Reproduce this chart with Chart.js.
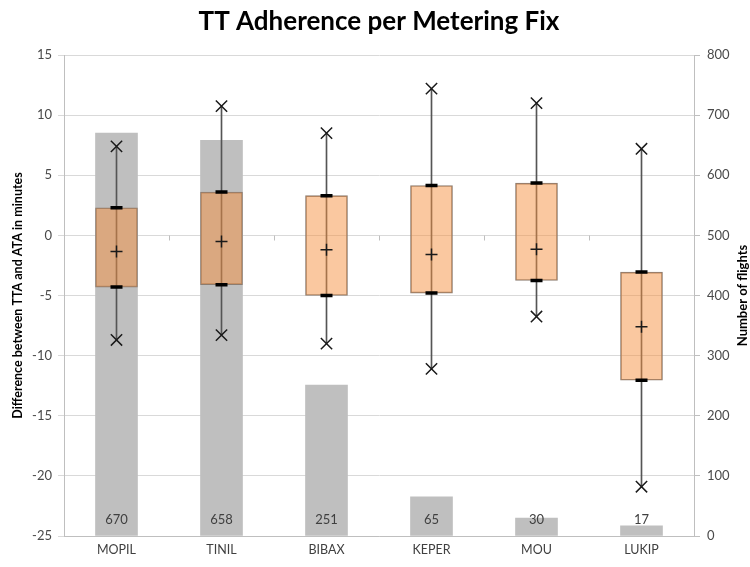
<!DOCTYPE html>
<html>
<head>
<meta charset="utf-8">
<script src="https://cdn.jsdelivr.net/npm/chart.js@4.4.1/dist/chart.umd.min.js"></script>
<style>
  html, body { margin: 0; padding: 0; background: #fff; }
  #wrap { width: 750px; height: 567px; }
</style>
</head>
<body>
<div id="wrap"><canvas id="boxChart" width="750" height="567"></canvas></div>
<script>
// metering fixes
const fixes = ['MOPIL', 'TINIL', 'BIBAX', 'KEPER', 'MOU', 'LUKIP'];
// number of flights (right axis)
const flights = [670, 658, 251, 65, 30, 17];
// TT adherence stats in minutes (left axis)
const maxVals = [7.4, 10.75, 8.5, 12.2, 11.0, 7.2];
const q3Vals = [2.3, 3.6, 3.3, 4.15, 4.35, -3.05];
const meanVals = [-1.35, -0.5, -1.2, -1.6, -1.15, -7.6];
const q1Vals = [-4.3, -4.1, -5.0, -4.8, -3.75, -12.05];
const minVals = [-8.7, -8.3, -9.0, -11.1, -6.75, -20.9];

const FONT = 'Lato, "Open Sans", sans-serif';

const extras = {
  id: 'extras',
  afterDatasetsDraw(chart) {
    const { ctx, scales: { x, y, y2 } } = chart;
    ctx.save();
    // counts at bottom of the flight bars
    ctx.font = '13px ' + FONT;
    ctx.fillStyle = '#404040';
    ctx.textAlign = 'center';
    ctx.textBaseline = 'middle';
    flights.forEach((v, i) => {
      ctx.fillText(String(v), x.getPixelForValue(i), y2.getPixelForValue(0) - 16);
    });
    // small category ticks on the zero line
    ctx.strokeStyle = '#BFBFBF';
    ctx.lineWidth = 1;
    const y0 = Math.round(y.getPixelForValue(0)) + 0.5;
    for (let i = 0; i < fixes.length - 1; i++) {
      const bx = Math.round((x.getPixelForValue(i) + x.getPixelForValue(i + 1)) / 2) + 0.5;
      ctx.beginPath();
      ctx.moveTo(bx, y0);
      ctx.lineTo(bx, y0 + 5);
      ctx.stroke();
    }
    ctx.restore();
  },
  afterDraw(chart) {
    const { ctx, chartArea } = chart;
    const midY = (chartArea.top + chartArea.bottom) / 2;
    ctx.save();
    ctx.fillStyle = '#000';
    ctx.textAlign = 'center';
    ctx.textBaseline = 'middle';
    ctx.font = 'bold 26px ' + FONT;
    ctx.fillText('TT Adherence per Metering Fix', (chartArea.left + chartArea.right) / 2, 22);

    ctx.font = 'bold 12.5px ' + FONT;
    ctx.translate(18, midY);
    ctx.rotate(-Math.PI / 2);
    ctx.fillText('Difference between TTA and ATA in minutes', 0, 0);
    ctx.restore();

    ctx.save();
    ctx.fillStyle = '#000';
    ctx.textAlign = 'center';
    ctx.textBaseline = 'middle';
    ctx.font = 'bold 13px ' + FONT;
    ctx.translate(743, midY);
    ctx.rotate(-Math.PI / 2);
    ctx.fillText('Number of flights', 0, 0);
    ctx.restore();
  }
};

const ctx = document.getElementById('boxChart').getContext('2d');

new Chart(ctx, {
  type: 'bar',
  data: {
    labels: fixes,
    datasets: [
      {
        label: 'Mean',
        type: 'line',
        data: meanVals,
        yAxisID: 'y',
        showLine: false,
        pointStyle: 'cross',
        pointRadius: 6,
        pointBorderWidth: 1.5,
        pointBorderColor: '#1a1a1a',
        order: 0
      },
      {
        label: 'Max',
        type: 'line',
        data: maxVals,
        yAxisID: 'y',
        showLine: false,
        pointStyle: 'crossRot',
        pointRadius: 8,
        pointBorderWidth: 1.5,
        pointBorderColor: '#1a1a1a',
        order: 0
      },
      {
        label: 'Min',
        type: 'line',
        data: minVals,
        yAxisID: 'y',
        showLine: false,
        pointStyle: 'crossRot',
        pointRadius: 8,
        pointBorderWidth: 1.5,
        pointBorderColor: '#1a1a1a',
        order: 0
      },
      {
        label: 'Q3 cap',
        type: 'line',
        data: q3Vals,
        yAxisID: 'y',
        showLine: false,
        pointStyle: 'line',
        pointRadius: 6,
        pointBorderWidth: 3.5,
        pointBorderColor: '#000',
        order: 1
      },
      {
        label: 'Q1 cap',
        type: 'line',
        data: q1Vals,
        yAxisID: 'y',
        showLine: false,
        pointStyle: 'line',
        pointRadius: 6,
        pointBorderWidth: 3.5,
        pointBorderColor: '#000',
        order: 1
      },
      {
        label: 'Box',
        data: q1Vals.map((v, i) => [v, q3Vals[i]]),
        yAxisID: 'y',
        grouped: false,
        barThickness: 42,
        backgroundColor: 'rgba(245, 145, 65, 0.5)',
        borderColor: '#8c7c70',
        borderWidth: 1,
        borderSkipped: false,
        order: 2
      },
      {
        label: 'Whisker',
        data: minVals.map((v, i) => [v, maxVals[i]]),
        yAxisID: 'y',
        grouped: false,
        barThickness: 1,
        backgroundColor: '#555555',
        order: 3
      },
      {
        label: 'Number of flights',
        data: flights,
        yAxisID: 'y2',
        grouped: false,
        barThickness: 42,
        backgroundColor: '#BFBFBF',
        order: 4
      }
    ]
  },
  options: {
    responsive: false,
    animation: false,
    layout: { padding: { top: 55, left: 0, right: 0, bottom: 0 } },
    plugins: {
      legend: { display: false },
      tooltip: { enabled: false },
      title: { display: false }
    },
    scales: {
      x: {
        grid: { display: false, drawTicks: false },
        border: { display: true, color: '#BFBFBF' },
        ticks: { color: '#404040', font: { family: FONT, size: 12.5 }, padding: 6 },
        afterFit: s => { s.height = 31; }
      },
      y: {
        position: 'left',
        min: -25,
        max: 15,
        ticks: { stepSize: 5, color: '#4a4a4a', font: { family: FONT, size: 13 }, padding: 6 },
        grid: { color: '#D9D9D9', tickLength: 6 },
        border: { display: true, color: '#BFBFBF' },
        afterFit: s => { s.width = 64; }
      },
      y2: {
        position: 'right',
        min: 0,
        max: 800,
        ticks: { stepSize: 100, color: '#4a4a4a', font: { family: FONT, size: 13 }, padding: 7 },
        grid: { drawOnChartArea: false, color: '#BFBFBF', tickLength: 6 },
        border: { display: true, color: '#BFBFBF' },
        afterFit: s => { s.width = 56; }
      }
    }
  },
  plugins: [extras]
});
</script>
</body>
</html>
